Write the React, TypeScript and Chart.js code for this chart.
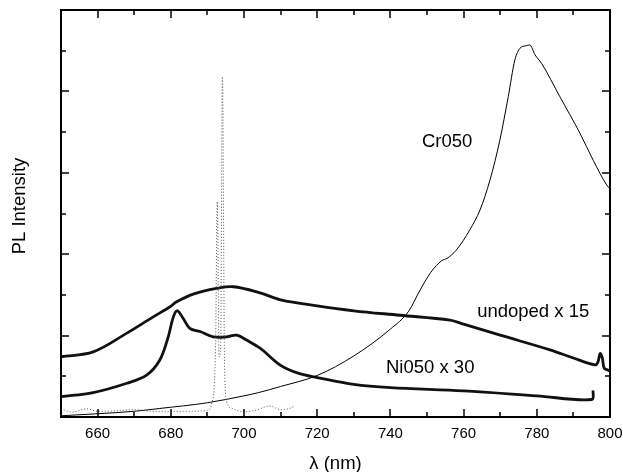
import React, { useEffect, useRef } from "react";
import { Chart, registerables } from "chart.js";

Chart.register(...registerables);

// ---- data ----
const crX = [650, 660, 670, 677, 690, 700, 704, 710, 720, 730, 740, 745, 748, 751, 754, 755.5, 758, 761.7, 764.5, 767.2, 769.9, 772.2, 774, 775.4, 777, 778.1, 779.5, 781.3, 786.3, 791.8, 795.4, 799.1, 800];
const crY = [0.03, 0.08, 0.14, 0.21, 0.35, 0.52, 0.6, 0.75, 1.02, 1.5, 2.16, 2.6, 3.1, 3.55, 3.84, 3.9, 4.1, 4.6, 5.09, 5.82, 6.8, 7.87, 8.77, 9.06, 9.12, 9.14, 8.9, 8.69, 7.87, 6.97, 6.31, 5.7, 5.6];

const undX = [650, 658.8, 668, 675.2, 679.8, 681.6, 686.1, 692.5, 697.1, 704.4, 710, 720, 730, 742.6, 756.3, 760, 770, 783.6, 790, 795.9, 796.7, 797.3, 797.9, 798.4, 799.5, 800];
const undY = [1.48, 1.6, 2.06, 2.46, 2.71, 2.83, 3.02, 3.16, 3.2, 3.05, 2.88, 2.73, 2.61, 2.5, 2.38, 2.28, 2.01, 1.65, 1.45, 1.28, 1.35, 1.56, 1.45, 1.2, 1.15, 1.13];

const niX = [650, 658.8, 668, 673.4, 677, 679.3, 680.7, 681.8, 683.4, 685.2, 688, 691.6, 695.3, 698, 700.7, 704.4, 710, 715, 720, 730, 740, 760, 780, 795, 795.4];
const niY = [0.5, 0.6, 0.83, 1.03, 1.4, 1.97, 2.46, 2.61, 2.42, 2.18, 2.1, 1.97, 1.97, 2.01, 1.89, 1.69, 1.27, 1.07, 0.97, 0.8, 0.72, 0.64, 0.52, 0.43, 0.65];

const lasX = [650, 653, 657, 660, 665, 670, 675, 680, 685, 690, 691.2, 692.2, 692.7, 693.2, 693.6, 694.1, 694.7, 695.3, 697, 700, 703, 707, 710, 712, 714];
const lasY = [0.2, 0.12, 0.2, 0.14, 0.15, 0.18, 0.14, 0.14, 0.14, 0.16, 0.34, 1.6, 5.29, 1.48, 1.6, 8.36, 1.2, 0.37, 0.2, 0.13, 0.16, 0.27, 0.18, 0.2, 0.27];

const xTickLabels = [660, 680, 700, 720, 740, 760, 780, 800];

const seriesLabels = [
  { text: "Cr050", x: 748.6, y: 6.63 },
  { text: "undoped x 15", x: 763.7, y: 2.46 },
  { text: "Ni050 x 30", x: 738.8, y: 1.08 },
];

const pts = (xs: number[], ys: number[]) => xs.map((x, i) => ({ x, y: ys[i] }));

const framePlugin = {
  id: "frame",
  afterDraw(chart: any) {
    const { ctx, chartArea: a } = chart;
    const xs = chart.scales.x;
    const ys = chart.scales.y;
    ctx.save();
    ctx.strokeStyle = "#000";
    ctx.fillStyle = "#000";
    ctx.lineWidth = 2;
    ctx.strokeRect(a.left, a.top, a.right - a.left, a.bottom - a.top);
    ctx.lineWidth = 1.5;
    for (let v = 660; v <= 790; v += 10) {
      const px = Math.round(xs.getPixelForValue(v));
      const len = v % 20 === 0 ? 8 : 5;
      ctx.beginPath();
      ctx.moveTo(px, a.bottom);
      ctx.lineTo(px, a.bottom - len);
      ctx.moveTo(px, a.top);
      ctx.lineTo(px, a.top + len);
      ctx.stroke();
    }
    for (let v = 1; v <= 9; v += 1) {
      const py = Math.round(ys.getPixelForValue(v));
      const len = v % 2 === 0 ? 8 : 5;
      ctx.beginPath();
      ctx.moveTo(a.left, py);
      ctx.lineTo(a.left + len, py);
      ctx.moveTo(a.right, py);
      ctx.lineTo(a.right - len, py);
      ctx.stroke();
    }
    ctx.font = '15px "Liberation Sans", Arial, sans-serif';
    ctx.textAlign = "center";
    ctx.textBaseline = "alphabetic";
    xTickLabels.forEach((v) => {
      ctx.fillText(String(v), xs.getPixelForValue(v), a.bottom + 21);
    });
    ctx.font = '18.5px "Liberation Sans", Arial, sans-serif';
    ctx.fillText("\u03bb (nm)", (a.left + a.right) / 2, 469);
    ctx.save();
    ctx.translate(25, 206);
    ctx.rotate(-Math.PI / 2);
    ctx.fillText("PL Intensity", 0, 0);
    ctx.restore();
    ctx.textAlign = "left";
    seriesLabels.forEach((l) => {
      ctx.fillText(l.text, xs.getPixelForValue(l.x), ys.getPixelForValue(l.y));
    });
    ctx.restore();
  },
};

export default function App() {
  const ref = useRef<HTMLCanvasElement | null>(null);
  useEffect(() => {
    document.body.style.margin = "0";
    const canvas = ref.current!;
    const chart = new Chart(canvas, {
      type: "line",
      data: {
        datasets: [
          {
            label: "laser",
            data: pts(lasX, lasY),
            borderColor: "#555",
            borderWidth: 1,
            borderDash: [1, 2],
            pointRadius: 0,
            cubicInterpolationMode: "monotone",
          },
          {
            label: "Cr050",
            data: pts(crX, crY),
            borderColor: "#000",
            borderWidth: 1,
            pointRadius: 0,
            cubicInterpolationMode: "monotone",
          },
          {
            label: "undoped x 15",
            data: pts(undX, undY),
            borderColor: "#111",
            borderWidth: 2.8,
            pointRadius: 0,
            tension: 0.35,
          },
          {
            label: "Ni050 x 30",
            data: pts(niX, niY),
            borderColor: "#111",
            borderWidth: 2.8,
            pointRadius: 0,
            tension: 0.35,
          },
        ],
      },
      options: {
        animation: false,
        responsive: false,
        devicePixelRatio: 1,
        layout: { padding: { left: 61, right: 13, top: 10, bottom: 55 } },
        plugins: { legend: { display: false }, tooltip: { enabled: false } },
        scales: {
          x: { type: "linear", min: 650, max: 800, display: false },
          y: { type: "linear", min: 0, max: 10, display: false },
        },
      },
      plugins: [framePlugin],
    });
    return () => chart.destroy();
  }, []);
  return <canvas ref={ref} width={623} height={472} style={{ display: "block" }} />;
}
